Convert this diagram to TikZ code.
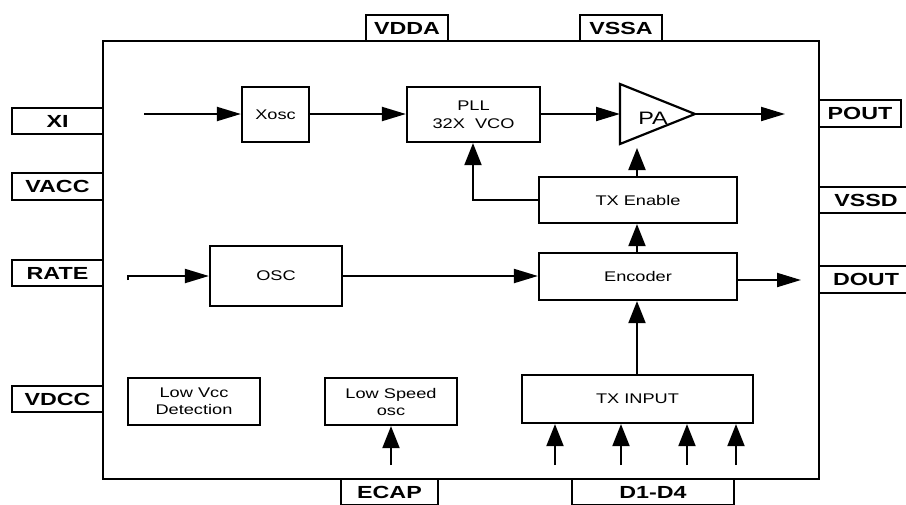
\documentclass[tikz,border=0pt]{standalone}
\usepackage{fontspec}
\usetikzlibrary{arrows.meta}
\newfontfamily\pinfont[FakeStretch=1.33]{Liberation Sans}
\newfontfamily\blkfont[FakeStretch=1.3]{Liberation Sans}
\tikzset{
  pin/.style={draw, line width=2.2pt, rectangle, inner sep=0pt,
    font=\pinfont\bfseries\fontsize{17.5}{20}\selectfont},
  blk/.style={draw, line width=2.2pt, rectangle, inner sep=0pt, align=center,
    font=\blkfont\fontsize{14}{17}\selectfont},
  conn/.style={line width=2pt},
  harr/.style={conn, -{Triangle[length=24pt,width=14pt]}},
  varr/.style={conn, -{Triangle[length=22pt,width=17pt]}},
}
\begin{document}
\begin{tikzpicture}[x=1pt,y=-1pt]
\clip (0,0) rectangle (906,504);
\fill[white] (0,0) rectangle (906,504);
% pins
\node[pin, minimum width=91pt, minimum height=26pt] (xi)   at (57.5,121)   {XI};
\node[pin, minimum width=91pt, minimum height=27pt] (vacc) at (57.5,186.5) {VACC};
\node[pin, minimum width=91pt, minimum height=26pt] (rate) at (57.5,273)   {RATE};
\node[pin, minimum width=91pt, minimum height=26pt] (vdcc) at (57.5,399)   {VDCC};
\node[pin, minimum width=82pt, minimum height=26pt] (vdda) at (407,28)     {VDDA};
\node[pin, minimum width=82pt, minimum height=26pt] (vssa) at (621,28)     {VSSA};
\node[pin, minimum width=82pt, minimum height=27pt] (pout) at (860,113.5)  {POUT};
\node[pin, minimum width=94pt, minimum height=26pt] (vssd) at (866,200)    {VSSD};
\node[pin, minimum width=94pt, minimum height=27pt] (dout) at (866,279.5)  {DOUT};
\node[pin, minimum width=97pt, minimum height=26pt] (ecap) at (389.5,492)  {ECAP};
\node[pin, minimum width=162pt, minimum height=26pt] (dd)  at (653,492)    {D1-D4};
% main box
\node[draw, fill=white, line width=2.8pt, minimum width=716pt, minimum height=438pt, inner sep=0pt] (chip) at (461,260) {};
% blocks
\node[blk, minimum width=67pt,  minimum height=55pt] (xosc) at (275.5,114.5) {Xosc};
\node[blk, minimum width=133pt, minimum height=55pt] (pll)  at (473.5,114.5) {PLL\\[1pt]32X\ \ VCO};
\node[blk, minimum width=198pt, minimum height=46pt] (txen) at (638,200)     {TX Enable};
\node[blk, minimum width=198pt, minimum height=47pt] (enc)  at (638,276.5)   {Encoder};
\node[blk, minimum width=132pt, minimum height=60pt] (osc)  at (276,276)     {OSC};
\node[blk, minimum width=132pt, minimum height=47pt] (lvcc) at (194,401.5)   {Low Vcc\\Detection};
\node[blk, minimum width=132pt, minimum height=47pt] (lso)  at (391,401.5)   {Low Speed\\osc};
\node[blk, minimum width=231pt, minimum height=48pt] (txin) at (637.5,399)   {TX INPUT};
% PA triangle
\coordinate (pa1) at (620,84);
\coordinate (pa2) at (620,144);
\coordinate (patip) at (695,114);
\coordinate (pain) at (620,114);
\draw[line width=2.2pt, line join=miter] (pa1) -- (patip) -- (pa2) -- cycle;
\node[font=\blkfont\fontsize{18}{20}\selectfont, inner sep=0pt] (pa) at (653,118) {PA};
% connector end points
\coordinate (xiin) at (144,114);
\coordinate (paout) at (785,114);
\coordinate (pabot) at (637,148);
\coordinate (ratein0) at (128,280);
\coordinate (ratein) at (128,276);
\coordinate (doutend) at (801,280);
\coordinate (encout) at (737,280);
\coordinate (ecapin) at (391,465);
\coordinate (d1) at (555,465);
\coordinate (d2) at (621,465);
\coordinate (d3) at (687,465);
\coordinate (d4) at (736,465);
% connectors
\draw[harr] (xiin) -- (xosc.west |- xiin);
\draw[harr] (xosc.east |- xiin) -- (pll.west |- xiin);
\draw[harr] (pll.east |- xiin) -- (pain);
\draw[harr] (patip) -- (paout);
\draw[varr] (txen.north -| pabot) -- (pabot);
\draw[varr] (txen.west) -- (txen.west -| 473,0) -- (pll.south -| 473,0);
\draw[varr] (enc.north -| pabot) -- (txen.south -| pabot);
\draw[harr] (osc.east |- ratein) -- (enc.west |- ratein);
\draw[harr] (ratein0) -- (ratein) -- (osc.west |- ratein);
\draw[harr] (encout) -- (doutend);
\draw[varr] (txin.north -| pabot) -- (enc.south -| pabot);
\draw[varr] (ecapin) -- (lso.south -| ecapin);
\draw[varr] (d1) -- (txin.south -| d1);
\draw[varr] (d2) -- (txin.south -| d2);
\draw[varr] (d3) -- (txin.south -| d3);
\draw[varr] (d4) -- (txin.south -| d4);
\end{tikzpicture}
\end{document}
